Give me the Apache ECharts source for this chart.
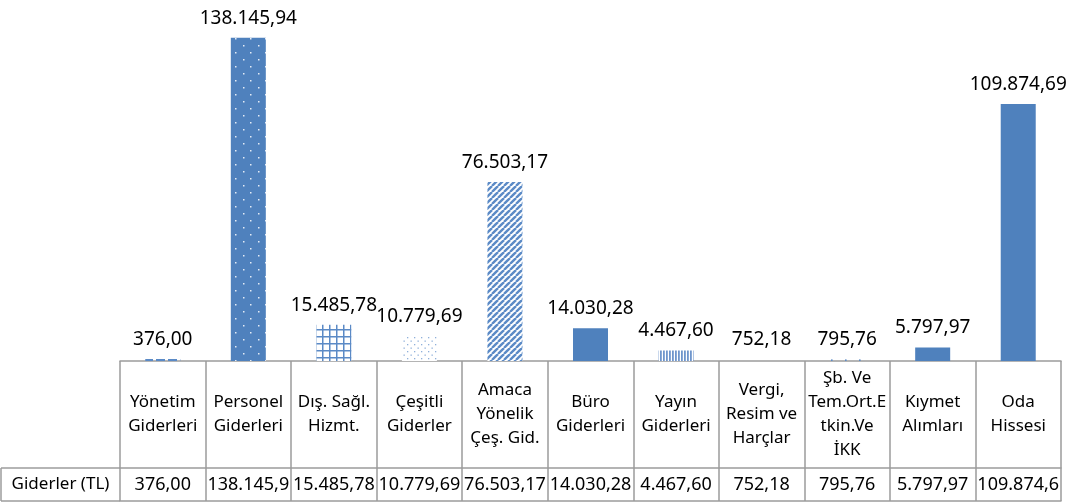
<!DOCTYPE html>
<html>
<head>
<meta charset="utf-8">
<script src="https://cdn.jsdelivr.net/npm/echarts@6/dist/echarts.min.js"></script>
<style>
  html, body { margin: 0; padding: 0; background: #fff; }
  #chart { width: 1072px; height: 504px; }
</style>
</head>
<body>
<div id="chart"></div>
<script>
// kategoriler (tablodaki satır kırılımlarıyla)
const categories = [
  'Yönetim\nGiderleri', 'Personel\nGiderleri', 'Dış. Sağl.\nHizmt.', 'Çeşitli\nGiderler',
  'Amaca\nYönelik\nÇeş. Gid.', 'Büro\nGiderleri', 'Yayın\nGiderleri', 'Vergi,\nResim ve\nHarçlar',
  'Şb. Ve\nTem.Ort.E\ntkin.Ve\nİKK', 'Kıymet\nAlımları', 'Oda\nHissesi'
];
const seriesName = 'Giderler (TL)';
const giderler = [376.00, 138145.94, 15485.78, 10779.69, 76503.17, 14030.28, 4467.60, 752.18, 795.76, 5797.97, 109874.69];

const BLUE = '#4f81bd';
const LINE = '#9c9c9c';
const FONT = 'Noto Sans';

// türkçe sayı biçimi: 138.145,94
function fmt(v) {
  const parts = v.toFixed(2).split('.');
  parts[0] = parts[0].replace(/\B(?=(\d{3})+(?!\d))/g, '.');
  return parts[0] + ',' + parts[1];
}

// desen dolgusu
function pattern(w, h, bg, draw) {
  const c = document.createElement('canvas');
  c.width = w; c.height = h;
  const ctx = c.getContext('2d');
  if (bg) { ctx.fillStyle = bg; ctx.fillRect(0, 0, w, h); }
  draw(ctx);
  return { image: c, repeat: 'repeat' };
}

const fills = [
  pattern(12, 2, null, ctx => { ctx.fillStyle = '#5b8ac6'; ctx.fillRect(0, 0, 9, 2); }),           // kesik çizgi
  pattern(15, 14, BLUE, ctx => { ctx.fillStyle = '#e4ecf6'; ctx.fillRect(3, 3, 1.5, 1.5); ctx.fillRect(10, 10, 1.5, 1.5); }), // noktalı
  pattern(7, 7, '#fff', ctx => { ctx.fillStyle = '#5b8ac6'; ctx.fillRect(0, 0, 7, 1.5); ctx.fillRect(0, 0, 1.5, 7); }),        // ızgara
  pattern(7, 7, '#fff', ctx => { ctx.fillStyle = '#8fb0da'; ctx.fillRect(1, 1, 1.3, 1.3); ctx.fillRect(4.5, 4.5, 1.3, 1.3); }), // seyrek nokta
  pattern(6, 6, '#fff', ctx => {                                                                     // çapraz çizgi
    ctx.strokeStyle = '#5b8ac6'; ctx.lineWidth = 2.4;
    [-6, 0, 6].forEach(o => { ctx.beginPath(); ctx.moveTo(o, 6); ctx.lineTo(o + 6, 0); ctx.stroke(); });
  }),
  BLUE,
  pattern(3, 4, '#fff', ctx => { ctx.fillStyle = '#6f96cc'; ctx.fillRect(0, 0, 1.8, 4); }),          // dikey çizgi
  pattern(8, 8, null, ctx => { ctx.fillStyle = '#b9cce6'; ctx.fillRect(4, 4, 1, 1); }),
  pattern(14, 2, null, ctx => { ctx.fillStyle = '#5b8ac6'; ctx.fillRect(5, 0, 1.6, 1.6); }),
  BLUE,
  BLUE
];

const gridLeft = 120, gridRight = 11, gridBottom = 143;
const baseY = 504 - gridBottom;
const headH = 107, rowH = 33;

const chart = echarts.init(document.getElementById('chart'));
chart.setOption({
  animation: false,
  grid: { left: gridLeft, right: gridRight, top: 10, bottom: gridBottom },
  yAxis: { type: 'value', min: 0, max: 150000, show: false },
  xAxis: [
    {
      type: 'category', data: categories, position: 'bottom',
      axisLine: { lineStyle: { color: LINE, width: 1.5 } },
      axisTick: { show: true, interval: 0, length: headH + rowH, lineStyle: { color: LINE, width: 1.5 } },
      axisLabel: {
        interval: 0, margin: headH / 2, verticalAlign: 'middle', lineHeight: 24,
        fontSize: 17, fontFamily: FONT, color: '#000'
      }
    },
    {
      type: 'category', data: categories, position: 'bottom', offset: headH,
      axisLine: { lineStyle: { color: LINE, width: 1.5 } },
      axisTick: { show: false },
      axisLabel: {
        interval: 0, margin: rowH / 2, verticalAlign: 'middle',
        fontSize: 18, fontFamily: FONT, color: '#000',
        width: 84, overflow: 'truncate', ellipsis: '',
        formatter: (v, i) => fmt(giderler[i])
      }
    },
    {
      type: 'category', data: categories, position: 'bottom', offset: headH + rowH,
      axisLine: { lineStyle: { color: LINE, width: 1.5 } },
      axisTick: { show: false },
      axisLabel: { show: false }
    }
  ],
  series: [{
    name: seriesName,
    type: 'bar',
    barWidth: 35,
    barMinHeight: 2,
    data: giderler.map((v, i) => ({ value: v, itemStyle: { color: fills[i] } })),
    label: {
      show: true, position: 'top', distance: 10,
      fontSize: 19, fontFamily: FONT, color: '#000',
      formatter: p => fmt(p.value)
    }
  }],
  graphic: [
    { type: 'line', shape: { x1: 1, y1: baseY + headH, x2: gridLeft, y2: baseY + headH }, style: { stroke: LINE, lineWidth: 1.5 } },
    { type: 'line', shape: { x1: 1, y1: baseY + headH + rowH, x2: gridLeft, y2: baseY + headH + rowH }, style: { stroke: LINE, lineWidth: 1.5 } },
    { type: 'line', shape: { x1: 1, y1: baseY + headH, x2: 1, y2: baseY + headH + rowH }, style: { stroke: LINE, lineWidth: 1.5 } },
    {
      type: 'text', x: (gridLeft + 1) / 2, y: baseY + headH + rowH / 2,
      style: { text: seriesName, align: 'center', verticalAlign: 'middle', fontSize: 17, fontFamily: FONT, fill: '#000' }
    }
  ]
});
</script>
</body>
</html>
